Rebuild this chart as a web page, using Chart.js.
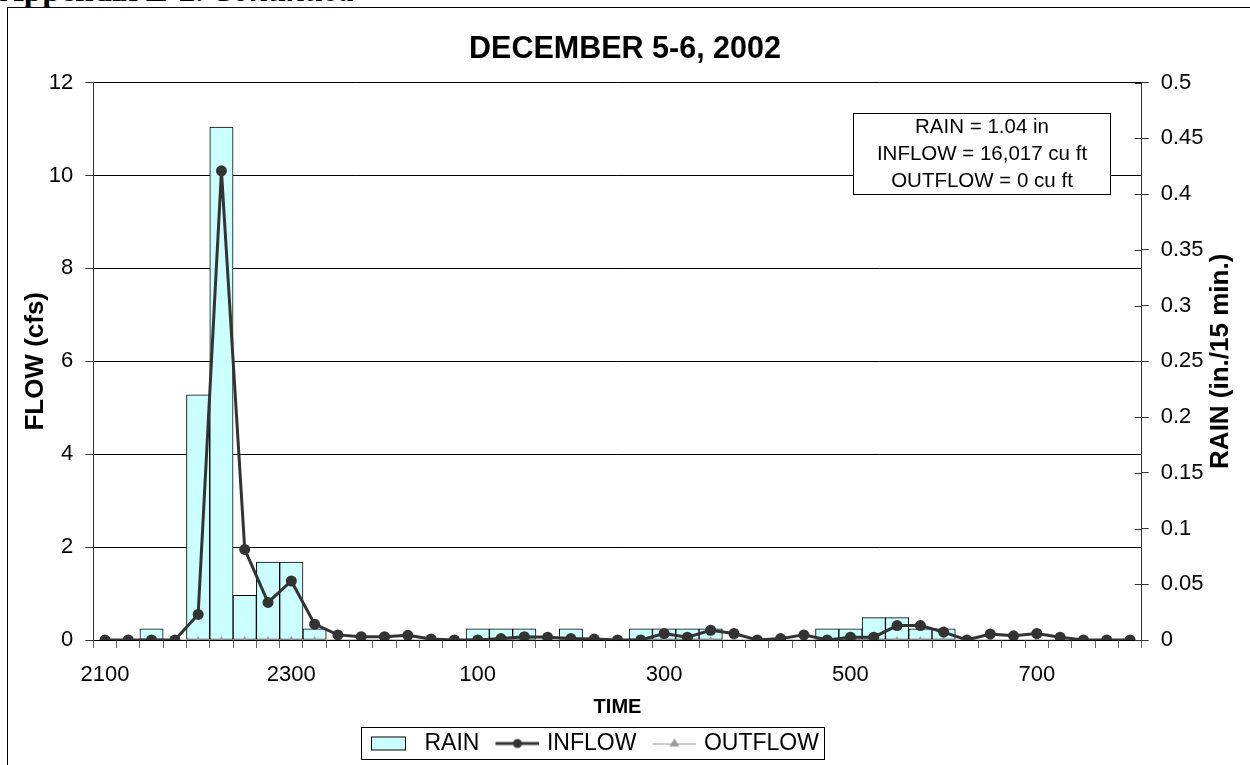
<!DOCTYPE html>
<html>
<head>
<meta charset="utf-8">
<title>December 5-6, 2002</title>
<script src="https://cdn.jsdelivr.net/npm/chart.js@4.4.1/dist/chart.umd.min.js"></script>
<style>
  html, body { margin: 0; padding: 0; background: #fff; }
  #wrap { position: relative; width: 1250px; height: 765px; overflow: hidden; }
  #pageHead { position: absolute; left: 0; top: -26px; font: bold 33px "Liberation Serif", "Times New Roman", serif; line-height: 33px; white-space: nowrap; }
  #frame { position: absolute; left: 7px; top: 7px; width: 1260px; height: 800px; border: 1px solid #000; }
  #flowChart { position: absolute; left: 0; top: 0; }
</style>
</head>
<body>
<div id="wrap">
  <div id="pageHead">Appendix E-2. <i>Continued</i></div>
  <div id="frame"></div>
  <canvas id="flowChart" width="1250" height="765"></canvas>
</div>
<script>
// 15-minute readings, 2100 on Dec 5 through 0800 on Dec 6
const timeLabels = [
    '2100', '2115', '2130', '2145', '2200', '2215', '2230', '2245',
    '2300', '2315', '2330', '2345', '0', '15', '30', '45',
    '100', '115', '130', '145', '200', '215', '230', '245',
    '300', '315', '330', '345', '400', '415', '430', '445',
    '500', '515', '530', '545', '600', '615', '630', '645',
    '700', '715', '730', '745', '800'
];

// rain (in./15 min.)
const rainIn = [
    0, 0, 0.01, 0, 0.22, 0.46, 0.04, 0.07,
    0.07, 0.01, 0, 0, 0, 0, 0, 0,
    0.01, 0.01, 0.01, 0, 0.01, 0, 0, 0.01,
    0.01, 0.01, 0.01, 0, 0, 0, 0, 0.01,
    0.01, 0.02, 0.02, 0.01, 0.01, 0, 0, 0,
    0, 0, 0, 0, 0
];

// inflow (cfs)
const inflowCfs = [
    0, 0, 0, 0, 0.55, 10.1, 1.95, 0.81,
    1.27, 0.34, 0.11, 0.07, 0.07, 0.1, 0.02, 0,
    0, 0.03, 0.07, 0.06, 0.03, 0.02, 0, 0,
    0.14, 0.06, 0.21, 0.14, 0, 0.03, 0.11, 0,
    0.06, 0.06, 0.31, 0.31, 0.17, 0, 0.13, 0.09,
    0.14, 0.06, 0, 0, 0
];

// outflow (cfs) - none recorded for this storm
const outflowCfs = new Array(timeLabels.length).fill(0);

const summaryLines = ['RAIN = 1.04 in', 'INFLOW = 16,017 cu ft', 'OUTFLOW = 0 cu ft'];

const RAIN_FILL = '#CCFFFF';
const INFLOW_COLOR = '#333333';
const OUTFLOW_COLOR = '#999999';
const AXIS_COLOR = '#333333';
const FONT = '"Liberation Sans", Arial, Helvetica, sans-serif';

Chart.defaults.font.family = FONT;
Chart.defaults.color = '#000';

// small canvases used as legend symbols (Excel style)
function legendSymbol(kind) {
    const c = document.createElement('canvas');
    c.width = 60;
    c.height = 20;
    const g = c.getContext('2d');
    if (kind === 'rain') {
        g.fillStyle = RAIN_FILL;
        g.fillRect(14.5, 3.5, 34, 13);
        g.strokeStyle = '#000';
        g.lineWidth = 1;
        g.strokeRect(14.5, 3.5, 34, 13);
    } else if (kind === 'inflow') {
        g.strokeStyle = INFLOW_COLOR;
        g.lineWidth = 3;
        g.beginPath();
        g.moveTo(16, 10);
        g.lineTo(60, 10);
        g.stroke();
        g.fillStyle = INFLOW_COLOR;
        g.beginPath();
        g.arc(38, 10, 4.5, 0, Math.PI * 2);
        g.fill();
    } else {
        g.strokeStyle = OUTFLOW_COLOR;
        g.lineWidth = 1;
        g.beginPath();
        g.moveTo(16, 10.5);
        g.lineTo(60, 10.5);
        g.stroke();
        g.fillStyle = OUTFLOW_COLOR;
        g.beginPath();
        g.moveTo(38, 5);
        g.lineTo(43, 13);
        g.lineTo(33, 13);
        g.closePath();
        g.fill();
    }
    return c;
}

const symbols = {
    RAIN: legendSymbol('rain'),
    INFLOW: legendSymbol('inflow'),
    OUTFLOW: legendSymbol('outflow')
};

// extra drawing: legend frame, summary box, right axis title and inner ticks
const extras = {
    id: 'extras',
    afterLayout(chart) {
        // Excel puts the legend a little left of centre
        const lg = chart.legend;
        const pad = lg.options.labels.padding;
        const rowStart = (lg.left + pad + lg.right - lg.lineWidths[0]) / 2;
        const shift = 361 - rowStart;
        lg.left += shift;
        lg.right += shift;
    },
    afterDraw(chart) {
        const { ctx, chartArea } = chart;
        const lg = chart.legend;
        const pad = lg.options.labels.padding;
        const rowStart = (lg.left + pad + lg.right - lg.lineWidths[0]) / 2;
        const rowEnd = rowStart + lg.lineWidths[0] - pad;

        ctx.save();
        ctx.strokeStyle = '#000';
        ctx.lineWidth = 1;
        ctx.strokeRect(Math.round(rowStart) + 0.5, Math.round(lg.top) - 0.5,
            Math.round(rowEnd - rowStart + 5), 32);

        // summary box
        const bx = Math.round(chartArea.right - 289) + 0.5;
        const by = Math.round(chartArea.top + 30) + 0.5;
        const bw = 257, bh = 81;
        ctx.fillStyle = '#fff';
        ctx.fillRect(bx, by, bw, bh);
        ctx.strokeRect(bx, by, bw, bh);
        ctx.fillStyle = '#000';
        ctx.font = '20.5px ' + FONT;
        ctx.textAlign = 'center';
        ctx.textBaseline = 'middle';
        summaryLines.forEach((t, i) => {
            ctx.fillText(t, bx + bw / 2, by + 14 + i * 27);
        });

        // right axis: ticks cross the axis line
        const s = chart.scales.y1;
        ctx.strokeStyle = AXIS_COLOR;
        s.ticks.forEach((t, i) => {
            const py = Math.round(s.getPixelForTick(i)) + 0.5;
            ctx.beginPath();
            ctx.moveTo(s.left - 7, py);
            ctx.lineTo(s.left, py);
            ctx.stroke();
        });

        // right axis title reads upward
        ctx.translate(1221, (chartArea.top + chartArea.bottom) / 2);
        ctx.rotate(-Math.PI / 2);
        ctx.font = 'bold 26px ' + FONT;
        ctx.fillText('RAIN (in./15 min.)', 0, 0);
        ctx.restore();
    }
};

const canvas = document.getElementById('flowChart');

new Chart(canvas, {
    type: 'bar',
    data: {
        labels: timeLabels,
        datasets: [
            {
                type: 'bar',
                label: 'RAIN',
                data: rainIn,
                yAxisID: 'y1',
                backgroundColor: RAIN_FILL,
                borderColor: '#000',
                borderWidth: 1,
                borderSkipped: false,
                barPercentage: 1,
                categoryPercentage: 1,
                order: 3
            },
            {
                type: 'line',
                label: 'INFLOW',
                data: inflowCfs,
                yAxisID: 'y',
                borderColor: INFLOW_COLOR,
                borderWidth: 3,
                pointRadius: 5.5,
                pointBackgroundColor: INFLOW_COLOR,
                pointBorderWidth: 0,
                tension: 0,
                order: 1
            },
            {
                type: 'line',
                label: 'OUTFLOW',
                data: outflowCfs,
                yAxisID: 'y',
                borderColor: OUTFLOW_COLOR,
                borderWidth: 1,
                pointStyle: 'triangle',
                pointRadius: 4,
                pointBackgroundColor: OUTFLOW_COLOR,
                pointBorderWidth: 0,
                tension: 0,
                order: 2
            }
        ]
    },
    options: {
        responsive: false,
        animation: false,
        devicePixelRatio: 1,
        layout: { padding: 0 },
        plugins: {
            title: {
                display: true,
                text: 'DECEMBER 5-6, 2002',
                color: '#000',
                font: { size: 30.5, weight: 'bold' },
                padding: { top: 31.5, bottom: 14.5 }
            },
            legend: {
                position: 'bottom',
                labels: {
                    usePointStyle: true,
                    pointStyleWidth: 52,
                    padding: 4,
                    color: '#000',
                    font: { size: 23 },
                    generateLabels(chart) {
                        return chart.data.datasets.map((ds, i) => ({
                            text: ds.label,
                            datasetIndex: i,
                            pointStyle: symbols[ds.label],
                            fillStyle: 'transparent',
                            strokeStyle: 'transparent',
                            lineWidth: 0,
                            hidden: false
                        }));
                    }
                }
            },
            tooltip: { enabled: false }
        },
        scales: {
            x: {
                offset: true,
                grid: {
                    display: true,
                    offset: true,
                    drawOnChartArea: false,
                    tickLength: 8,
                    color: '#666'
                },
                border: { display: true, color: '#000', width: 1 },
                ticks: {
                    autoSkip: false,
                    maxRotation: 0,
                    padding: 14,
                    font: { size: 22 },
                    callback: function(value, index) {
                        return index % 8 === 0 ? this.getLabelForValue(value) : '';
                    }
                },
                title: {
                    display: true,
                    text: 'TIME',
                    font: { size: 20, weight: 'bold' },
                    padding: { top: 0, bottom: 8.5 }
                },
                afterFit(scale) { scale.height = 88; }
            },
            y: {
                position: 'left',
                min: 0,
                max: 12,
                grid: {
                    color: '#000',
                    lineWidth: 1,
                    tickLength: 8,
                    tickColor: AXIS_COLOR
                },
                border: { display: true, color: AXIS_COLOR, width: 1 },
                ticks: {
                    stepSize: 2,
                    padding: 12,
                    font: { size: 22 }
                },
                title: {
                    display: true,
                    text: 'FLOW (cfs)',
                    font: { size: 26, weight: 'bold' },
                    padding: { top: 20.7, bottom: 0 }
                },
                afterFit(scale) { scale.width = 93.3; }
            },
            y1: {
                position: 'right',
                min: 0,
                max: 0.5,
                grid: {
                    drawOnChartArea: false,
                    tickLength: 7,
                    color: AXIS_COLOR
                },
                border: { display: true, color: AXIS_COLOR, width: 1 },
                ticks: {
                    stepSize: 0.05,
                    padding: 12,
                    font: { size: 22 },
                    callback: (v) => String(+v.toFixed(2))
                },
                afterFit(scale) { scale.width = 108.3; }
            }
        }
    },
    plugins: [extras]
});
</script>
</body>
</html>
